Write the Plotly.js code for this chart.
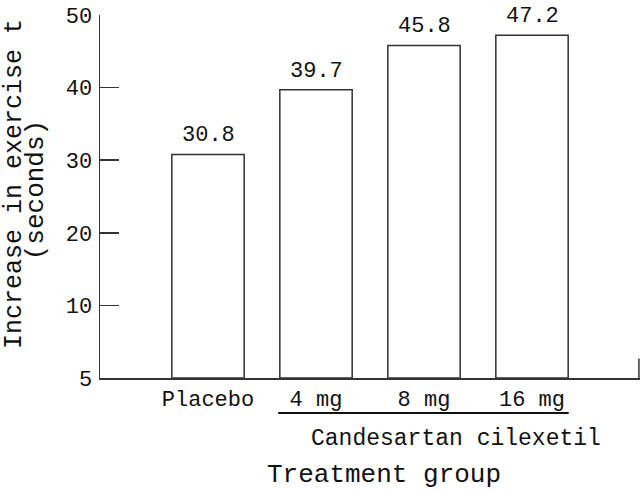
<!DOCTYPE html>
<html>
<head>
<meta charset="utf-8">
<script src="https://cdn.plot.ly/plotly-3.0.1.min.js"></script>
<style>html,body{margin:0;padding:0;background:#fff;}#chart{width:640px;height:491px;}</style>
</head>
<body>
<div id="chart"></div>
<script>
const categories = ["Placebo", "4 mg", "8 mg", "16 mg"];
const values = [30.8, 39.7, 45.8, 47.2];
const valueLabels = ["30.8", "39.7", "45.8", "47.2"];
const yTickVals = [0, 10, 20, 30, 40, 50];
const yTickText = ["5", "10", "20", "30", "40", "50"];
const yTitleLine1 = "Increase in exercise t";
const yTitleLine2 = "(seconds)";
const groupLabel = "Candesartan cilexetil";
const xTitle = "Treatment group";

const FONT = "Courier New, Liberation Mono, monospace";
const LINE = "#333";

const idx = categories.map((_, i) => i);

const trace = {
  type: "bar",
  x: idx,
  y: values,
  width: 0.67,
  marker: {color: "#fff", line: {color: LINE, width: 1.5}},
  hoverinfo: "skip"
};

const annotations = values.map((v, i) => ({
  x: idx[i], y: v, xref: "x", yref: "y",
  text: valueLabels[i], showarrow: false,
  yanchor: "bottom", yshift: 4,
  font: {family: FONT, size: 22, color: "#111"}
}));

annotations.push({
  x: 2.3, y: -0.168, xref: "x", yref: "paper",
  text: groupLabel, showarrow: false, yanchor: "middle", xanchor: "center",
  font: {family: FONT, size: 23, color: "#111"}
});
annotations.push({
  x: 0.525, y: -0.268, xref: "paper", yref: "paper",
  text: xTitle, showarrow: false, yanchor: "middle", xanchor: "center",
  font: {family: FONT, size: 26, color: "#111"}
});
annotations.push({
  x: -0.157, y: 0.535, xref: "paper", yref: "paper",
  text: yTitleLine1, showarrow: false, textangle: -90,
  xanchor: "center", yanchor: "middle",
  font: {family: FONT, size: 25, color: "#111"}
});
annotations.push({
  x: -0.118, y: 0.518, xref: "paper", yref: "paper",
  text: yTitleLine2, showarrow: false, textangle: -90,
  xanchor: "center", yanchor: "middle",
  font: {family: FONT, size: 26, color: "#111"}
});

const layout = {
  width: 640, height: 491,
  margin: {l: 100, r: 0, t: 15, b: 113, pad: 0},
  paper_bgcolor: "#fff", plot_bgcolor: "#fff",
  showlegend: false,
  xaxis: {
    range: [-1, 4],
    tickvals: idx, ticktext: categories,
    ticks: "", showgrid: false, zeroline: false,
    showline: true, linecolor: LINE, linewidth: 1.5,
    tickfont: {family: FONT, size: 22, color: "#111"},
    ticklabelstandoff: 0,
    fixedrange: true
  },
  yaxis: {
    range: [0, 50],
    tickvals: yTickVals, ticktext: yTickText,
    ticks: "inside", ticklen: 19, tickwidth: 1.5, tickcolor: LINE,
    showgrid: false, zeroline: false,
    showline: true, linecolor: LINE, linewidth: 1.5,
    tickfont: {family: FONT, size: 22, color: "#111"},
    ticklabelstandoff: 2,
    fixedrange: true
  },
  shapes: [
    {type: "line", xref: "x", yref: "paper", x0: 0.65, x1: 3.34, y0: -0.0964, y1: -0.0964,
     line: {color: "#111", width: 2}},
    {type: "line", xref: "paper", yref: "y", x0: 0.998, x1: 0.998, y0: 0, y1: 2.7,
     line: {color: LINE, width: 1.5}}
  ],
  annotations: annotations
};

Plotly.newPlot("chart", [trace], layout, {staticPlot: true, displayModeBar: false});
</script>
</body>
</html>
